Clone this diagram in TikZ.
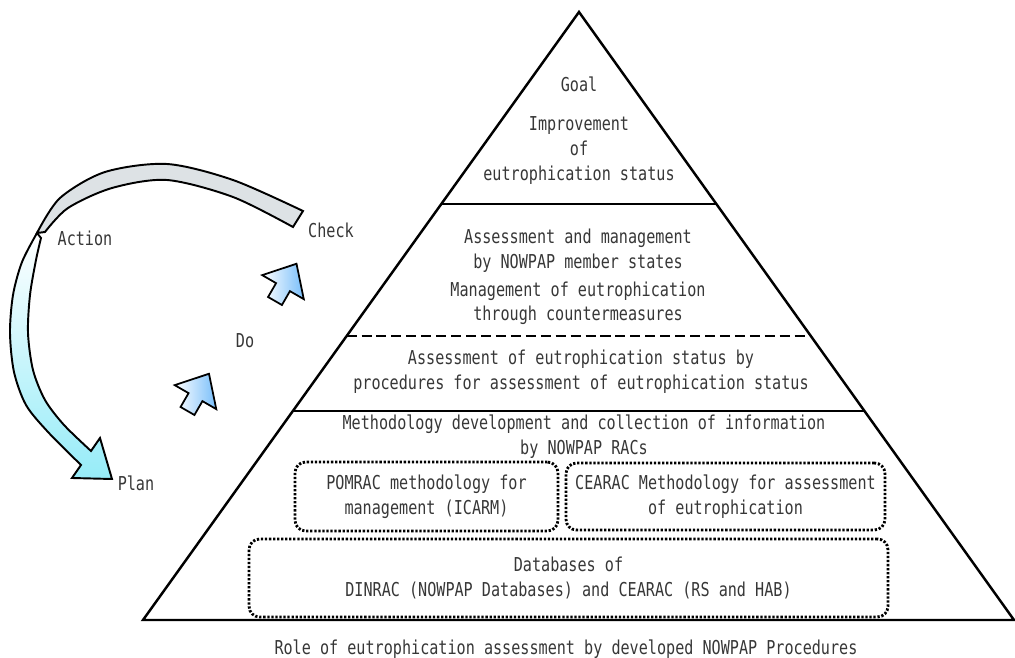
\documentclass[tikz,border=0pt]{standalone}
\usepackage{fontspec}
\setmainfont{DejaVu Sans Mono}[FakeStretch=0.79]
\usetikzlibrary{calc}

\definecolor{ribbongray}{RGB}{221,226,229}
\definecolor{ribboncyan}{RGB}{150,236,248}
\definecolor{arrowblue}{RGB}{120,190,250}
\definecolor{labelgray}{RGB}{55,55,55}

\tikzset{
  layer/.style={text=labelgray, align=center, inner sep=0pt, font=\fontsize{10.9}{14.2}\selectfont},
  ragbox/.style={layer, draw=black, line width=1.6pt, dash pattern=on 1.3pt off 1pt, rounded corners=6pt},
  ribbon/.style={draw=black, line width=1.1pt, line join=miter},
  uparrow/.style={draw=black, line width=1pt, line join=miter, shading angle=-30, left color=white, right color=arrowblue},
}

\begin{document}
\begin{tikzpicture}[x=0.02cm, y=-0.02cm]
    \useasboundingbox (0,0) rectangle (1015,658);
    \coordinate (apex) at (579,12);
    \coordinate (bl) at (143,620);
    \coordinate (br) at (1014,620);
    \draw[line width=1.4pt, line join=miter] (bl) -- (apex) -- (br) -- cycle;
    \draw[line width=1.4pt] ($(bl)!0.684!(apex)$) -- ($(br)!0.684!(apex)$);
    \draw[line width=1.4pt, dash pattern=on 5.7pt off 2.8pt] ($(bl)!0.467!(apex)$) -- ($(br)!0.467!(apex)$);
    \draw[line width=1.4pt] ($(bl)!0.3438!(apex)$) -- ($(br)!0.3438!(apex)$);

    \node[layer] (goal) at (579,131) {Goal\\[8pt]Improvement\\of\\eutrophication status};
    \node[layer] (states) at (578,277) {Assessment and management\\by NOWPAP member states\\[1.5pt]Management of eutrophication\\through countermeasures};
    \node[layer] (status) at (581,371.5) {Assessment of eutrophication status by\\procedures for assessment of eutrophication status};
    \node[layer] (racs) at (584,436.5) {Methodology development and collection of information\\by NOWPAP RACs};
    \node[ragbox, minimum width=5.26cm, minimum height=1.38cm] (pomrac) at (426.5,496.5) {POMRAC methodology for\\management (ICARM)};
    \node[ragbox, minimum width=6.38cm, minimum height=1.34cm] (cearac) at (725.5,496.5) {CEARAC Methodology for assessment\\of eutrophication};
    \node[ragbox, minimum width=12.78cm, minimum height=1.56cm] (dbase) at (568.5,578) {Databases of\\DINRAC (NOWPAP Databases) and CEARAC (RS and HAB)};
    \node[layer] (caption) at (566,649) {Role of eutrophication assessment by developed NOWPAP Procedures};

    \draw[ribbon, fill=ribbongray] plot[smooth] coordinates {(303,211) (233,180) (167,164) (105,172) (60,198) (37,233)}
        -- plot[smooth] coordinates {(45,232) (68,208) (112,188) (167,180) (233,197) (293,227)} -- cycle;
    \draw[ribbon, top color=white, bottom color=ribboncyan] plot[smooth] coordinates {(37,233) (22,262) (13,295) (10,333) (14,372) (26,405) (48,432) (81,465)}
        -- (72,478) -- (112,479) -- (100,438)
        -- plot[smooth] coordinates {(91,451) (64,425) (45,400) (33,370) (28,333) (30,295) (36,260) (41,238)} -- cycle;

    \draw[uparrow, shift={(187.5,411)}, rotate=60] (0,-8) -- (16,-8) -- (16,-24) -- (43,0) -- (16,24) -- (16,8) -- (0,8) -- cycle;
    \draw[uparrow, shift={(275,301)}, rotate=60] (0,-8) -- (16,-8) -- (16,-24) -- (43,0) -- (16,24) -- (16,8) -- (0,8) -- cycle;

    \node[layer] (action) at (85,238) {Action};
    \node[layer] (check) at (331,230) {Check};
    \node[layer] (do) at (245,341) {Do};
    \node[layer] (plan) at (136,483) {Plan};
\end{tikzpicture}
\end{document}
